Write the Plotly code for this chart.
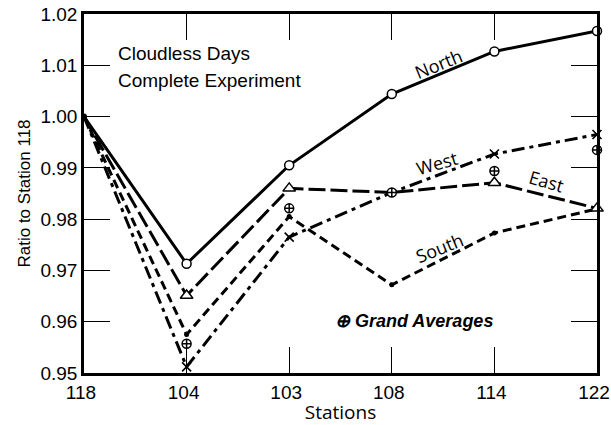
import plotly.graph_objects as go

stations = ["118", "104", "103", "108", "114", "122"]
north = [1.000, 0.9713, 0.9905, 1.0044, 1.0127, 1.0167]
east = [1.000, 0.9651, 0.9860, 0.9852, 0.9871, 0.9821]
west = [1.000, 0.9512, 0.9765, 0.9852, 0.9927, 0.9965]
south = [1.000, 0.9575, 0.9805, 0.9672, 0.9773, 0.9820]
grand_stations = ["104", "103", "108", "114", "122"]
grand = [0.9557, 0.9821, 0.9852, 0.9894, 0.9935]
y_ticks = [0.95, 0.96, 0.97, 0.98, 0.99, 1.00, 1.01, 1.02]

W, H = 611, 425
L, R, T, B = 84, 14, 14, 52
PW, PH = W - L - R, H - T - B

def px(x, y):
    return (x - L) / PW, (H - B - y) / PH

fig = go.Figure()

line_w = 3
fig.add_trace(go.Scatter(x=stations, y=north, mode="lines",
                         line=dict(color="black", width=line_w), cliponaxis=False))
fig.add_trace(go.Scatter(x=stations, y=east, mode="lines",
                         line=dict(color="black", width=line_w, dash="17px,5px"), cliponaxis=False))
fig.add_trace(go.Scatter(x=stations, y=west, mode="lines",
                         line=dict(color="black", width=line_w, dash="13px,5px,4px,5px"), cliponaxis=False))
fig.add_trace(go.Scatter(x=stations, y=south, mode="lines",
                         line=dict(color="black", width=line_w, dash="9px,5px"), cliponaxis=False))

# South vertex dots
fig.add_trace(go.Scatter(x=stations[1:5], y=south[1:5], mode="markers",
                         marker=dict(symbol="circle", size=5, color="black"), cliponaxis=False))
# origin dot
fig.add_trace(go.Scatter(x=stations[:1], y=north[:1], mode="markers",
                         marker=dict(symbol="circle", size=6, color="black"), cliponaxis=False))

fig.add_trace(go.Scatter(x=stations[1:], y=north[1:], mode="markers",
                         marker=dict(symbol="circle", size=9, color="white",
                                     line=dict(color="black", width=1.5)), cliponaxis=False))
fig.add_trace(go.Scatter(x=[stations[i] for i in (1, 2, 4, 5)], y=[east[i] for i in (1, 2, 4, 5)],
                         mode="markers",
                         marker=dict(symbol="triangle-up", size=11, color="white",
                                     line=dict(color="black", width=1.5)), cliponaxis=False))
fig.add_trace(go.Scatter(x=[stations[i] for i in (1, 2, 4, 5)], y=[west[i] for i in (1, 2, 4, 5)],
                         mode="markers",
                         marker=dict(symbol="x-thin-open", size=9, color="black",
                                     line=dict(color="black", width=1.6)), cliponaxis=False))
fig.add_trace(go.Scatter(x=grand_stations, y=grand, mode="markers",
                         marker=dict(symbol="circle-cross", size=9, color="white",
                                     line=dict(color="black", width=1.5)), cliponaxis=False))

annots = []
def add_text(text, x, y, size, rot=0, family="Liberation Sans", xanchor="center"):
    xp, yp = px(x, y)
    annots.append(dict(text=text, x=xp, y=yp, xref="paper", yref="paper",
                       showarrow=False, textangle=rot, xanchor=xanchor, yanchor="middle",
                       font=dict(family=family, size=size, color="black")))

add_text("Cloudless Days", 116, 53, 19, xanchor="left")
add_text("Complete Experiment", 116, 80, 19, xanchor="left")
add_text("North", 438, 64, 18, rot=-22, family="Open Sans")
add_text("West", 437, 163, 18, rot=-16, family="Open Sans")
add_text("East", 546, 181, 18, rot=16, family="Open Sans")
add_text("South", 439, 248, 18, rot=-22, family="Open Sans")
add_text("<b><i>⊕ Grand Averages</i></b>", 414, 321, 18)

fig.update_layout(
    width=W, height=H,
    margin=dict(l=L, r=R, t=T, b=B, autoexpand=False),
    paper_bgcolor="white", plot_bgcolor="white",
    showlegend=False,
    annotations=annots,
    xaxis=dict(type="category", categoryorder="array", categoryarray=stations,
               range=[0, 5], showgrid=False, zeroline=False, automargin=False,
               showline=True, linecolor="black", linewidth=2.5, mirror="ticks",
               ticks="inside", ticklen=26, tickwidth=1.2, tickcolor="black",
               ticklabelstandoff=0, ticklabelshift=-3,
               tickfont=dict(family="Liberation Sans", size=19, color="black"),
               title=dict(text="Stations", standoff=6,
                          font=dict(family="Open Sans", size=19, color="black"))),
    yaxis=dict(range=[0.95, 1.02], tickvals=y_ticks, tickformat=".2f",
               showgrid=False, zeroline=False, automargin=False,
               showline=True, linecolor="black", linewidth=2.5, mirror="ticks",
               ticks="inside", ticklen=26, tickwidth=1.2, tickcolor="black",
               tickfont=dict(family="Liberation Sans", size=19, color="black"),
               title=dict(text="Ratio to Station 118", standoff=6,
                          font=dict(family="Liberation Sans", size=17, color="black"))),
)

fig.write_html("out.html")
